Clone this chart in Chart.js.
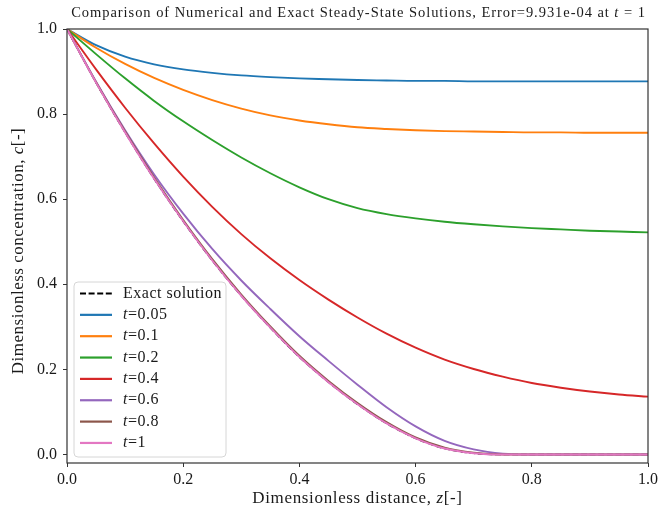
<!DOCTYPE html>
<html lang="en">
<head>
<meta charset="UTF-8">
<title>Steady-State Concentration Profiles</title>
<script src="https://cdn.jsdelivr.net/npm/chart.js@4.4.1/dist/chart.umd.min.js"></script>
<style>
  html, body { margin: 0; padding: 0; background: #ffffff; }
  #wrap { width: 661px; height: 517px; }
</style>
</head>
<body>
<div id="wrap"><canvas id="profiles" width="661" height="517"></canvas></div>
<script>
// dimensionless distance samples
const zPoints = [0, 0.05, 0.1, 0.15, 0.2, 0.25, 0.3, 0.35, 0.4, 0.45, 0.5,
                 0.55, 0.6, 0.65, 0.7, 0.75, 0.8, 0.85, 0.9, 0.95, 1.0];

// concentration profiles c(z) at each time
const cExact = [1.0, 0.874, 0.757, 0.648, 0.548, 0.456, 0.373, 0.298, 0.229, 0.170, 0.118,
                0.073, 0.038, 0.014, 0.003, 0, 0, 0, 0, 0, 0];
const cT005 = [1.0, 0.962, 0.935, 0.917, 0.905, 0.897, 0.891, 0.887, 0.884, 0.882, 0.880,
               0.879, 0.878, 0.878, 0.877, 0.877, 0.877, 0.877, 0.877, 0.877, 0.877];
const cT01 = [1.0, 0.956, 0.918, 0.885, 0.857, 0.833, 0.813, 0.797, 0.785, 0.776, 0.769,
              0.765, 0.762, 0.760, 0.759, 0.758, 0.757, 0.757, 0.756, 0.756, 0.756];
const cT02 = [1.0, 0.941, 0.884, 0.831, 0.783, 0.739, 0.698, 0.661, 0.628, 0.600, 0.579,
              0.565, 0.555, 0.547, 0.541, 0.536, 0.532, 0.529, 0.526, 0.524, 0.522];
const cT04 = [1.0, 0.905, 0.815, 0.731, 0.653, 0.582, 0.518, 0.461, 0.410, 0.364, 0.322,
              0.284, 0.251, 0.223, 0.201, 0.183, 0.168, 0.157, 0.148, 0.141, 0.136];
const cT06 = [1.0, 0.876, 0.762, 0.658, 0.566, 0.483, 0.409, 0.342, 0.278, 0.220, 0.164,
              0.111, 0.066, 0.032, 0.012, 0.002, 0, 0, 0, 0, 0];
const cT08 = [1.0, 0.875, 0.759, 0.651, 0.551, 0.459, 0.376, 0.301, 0.232, 0.173, 0.121,
              0.076, 0.040, 0.016, 0.004, 0, 0, 0, 0, 0, 0];
const cT1 = [1.0, 0.874, 0.757, 0.648, 0.548, 0.456, 0.373, 0.298, 0.229, 0.170, 0.118,
             0.073, 0.038, 0.014, 0.003, 0, 0, 0, 0, 0, 0];

const seriesLabels = ['Exact solution', 't=0.05', 't=0.1', 't=0.2', 't=0.4', 't=0.6', 't=0.8', 't=1'];
const xTicks = [0, 0.2, 0.4, 0.6, 0.8, 1.0];
const yTicks = [0, 0.2, 0.4, 0.6, 0.8, 1.0];

const FONT = '"Liberation Serif", "Times New Roman", serif';
const TEXT_COLOR = '#1a1a1a';

const profiles = [cExact, cT005, cT01, cT02, cT04, cT06, cT08, cT1];
const colors = ['#000000', '#1f77b4', '#ff7f0e', '#2ca02c', '#d62728', '#9467bd', '#8c564b', '#e377c2'];

const datasets = profiles.map((vals, i) => ({
  label: seriesLabels[i],
  data: zPoints.map((z, k) => ({ x: z, y: vals[k] })),
  borderColor: colors[i],
  borderWidth: i === 0 ? 1.6 : 1.9,
  borderDash: i === 0 ? [6, 2.6] : [],
  order: profiles.length - i,   // later curves on top
  pointRadius: 0,
  fill: false,
  cubicInterpolationMode: 'monotone'
}));

// text with italic pieces: parts = [[text, isItalic], ...]
function partsFor(label) {
  if (label.startsWith('t=')) return [['t', true], [label.slice(1), false]];
  return [[label, false]];
}

function drawRich(ctx, parts, x, y, size, opts) {
  opts = opts || {};
  const spacing = opts.spacing || 0;
  ctx.save();
  ctx.letterSpacing = spacing + 'px';
  let widths = parts.map(([t, it]) => {
    ctx.font = (it ? 'italic ' : '') + size + 'px ' + FONT;
    return ctx.measureText(t).width;
  });
  const total = widths.reduce((a, b) => a + b, 0);
  ctx.translate(x, y);
  if (opts.rotate) ctx.rotate(opts.rotate);
  let cx = opts.align === 'left' ? 0 : -total / 2;
  ctx.fillStyle = TEXT_COLOR;
  ctx.textBaseline = 'middle';
  ctx.textAlign = 'left';
  parts.forEach(([t, it], i) => {
    ctx.font = (it ? 'italic ' : '') + size + 'px ' + FONT;
    ctx.fillText(t, cx, 0);
    cx += widths[i];
  });
  ctx.restore();
}

// axes box, titles and legend
const decorations = {
  id: 'decorations',
  afterDatasetsDraw(chart) {
    const { ctx, chartArea: a } = chart;
    ctx.save();
    ctx.strokeStyle = '#333333';
    ctx.lineWidth = 1.2;
    ctx.strokeRect(a.left, a.top, a.right - a.left, a.bottom - a.top);
    ctx.restore();

    const midX = (a.left + a.right) / 2;
    const midY = (a.top + a.bottom) / 2;
    drawRich(ctx, [['Comparison of Numerical and Exact Steady-State Solutions, Error=9.931e-04 at ', false],
                   ['t', true], [' = 1', false]], midX + 1, 13, 14.5, { spacing: 0.95 });
    drawRich(ctx, [['Dimensionless distance, ', false], ['z', true], ['[-]', false]],
             midX, 499, 17, { spacing: 0.65 });
    drawRich(ctx, [['Dimensionless concentration, ', false], ['c', true], ['[-]', false]],
             19, midY + 5, 17, { spacing: 0.5, rotate: -Math.PI / 2 });

    // legend box
    const lx = 74, ly = 282, lw = 152, lh = 175, r = 4;
    ctx.save();
    ctx.beginPath();
    ctx.roundRect(lx, ly, lw, lh, r);
    ctx.fillStyle = 'rgba(255,255,255,0.85)';
    ctx.fill();
    ctx.strokeStyle = '#d6d6d6';
    ctx.lineWidth = 1;
    ctx.stroke();
    ctx.restore();

    chart.data.datasets.forEach((ds, i) => {
      const yy = ly + 11.5 + i * 21.35;
      ctx.save();
      ctx.strokeStyle = ds.borderColor;
      ctx.lineWidth = i === 0 ? 2 : 2.2;
      ctx.setLineDash(ds.borderDash);
      ctx.beginPath();
      ctx.moveTo(80, yy);
      ctx.lineTo(112, yy);
      ctx.stroke();
      ctx.restore();
      drawRich(ctx, partsFor(ds.label), 123, yy, 16, { align: 'left', spacing: 0.5 });
    });
  }
};

const tickFont = { family: FONT, size: 16 };

new Chart(document.getElementById('profiles'), {
  type: 'line',
  data: { datasets },
  options: {
    responsive: false,
    animation: false,
    devicePixelRatio: 1,
    layout: { padding: { top: 29, right: 10, left: 0, bottom: 0 } },
    plugins: { legend: { display: false }, tooltip: { enabled: false }, title: { display: false } },
    scales: {
      x: {
        type: 'linear', min: 0, max: 1,
        afterBuildTicks: s => { s.ticks = xTicks.map(v => ({ value: v })); },
        afterFit: s => { s.height = 54; },
        ticks: { font: tickFont, color: TEXT_COLOR, padding: 3, maxRotation: 0,
                 callback: v => v.toFixed(1) },
        grid: { drawOnChartArea: false, drawTicks: true, tickLength: 4, tickColor: '#333333', tickWidth: 1 },
        border: { display: false }
      },
      y: {
        type: 'linear', min: -0.02, max: 1.0,
        afterBuildTicks: s => { s.ticks = yTicks.map(v => ({ value: v })); },
        afterFit: s => { s.width = 67; },
        ticks: { font: tickFont, color: TEXT_COLOR, padding: 6,
                 callback: v => v.toFixed(1) },
        grid: { drawOnChartArea: false, drawTicks: true, tickLength: 4, tickColor: '#333333', tickWidth: 1 },
        border: { display: false }
      }
    }
  },
  plugins: [decorations]
});
</script>
</body>
</html>
